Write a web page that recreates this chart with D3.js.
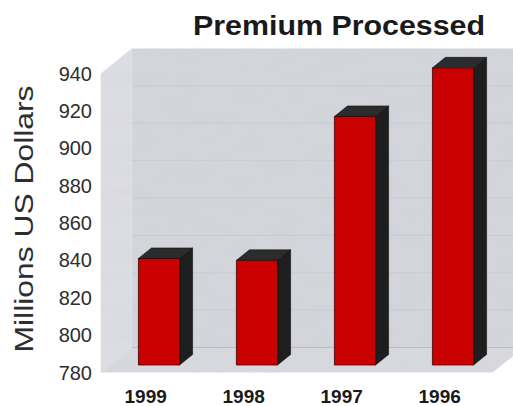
<!DOCTYPE html>
<html>
<head>
<meta charset="utf-8">
<script src="https://cdn.jsdelivr.net/npm/d3@7/dist/d3.min.js"></script>
<style>
  html, body { margin: 0; padding: 0; background: #ffffff; }
  svg { display: block; }
</style>
</head>
<body>
<svg id="chart" width="513" height="406"></svg>
<script>
// Premium processed per year, millions of US dollars
const years = ["1999", "1998", "1997", "1996"];
const premium = [837, 836, 913, 939];
const yTicks = [780, 800, 820, 840, 860, 880, 900, 920, 940];

const svg = d3.select("#chart");

// Front plane of the 3D box
const boxLeft = 100.7, boxRight = 492.7;
const boxBottom = 372.5, boxTop = 73.5;
// Depth offset of the back wall
const DX = 31, DY = 25;
// Bars sit between these depth fractions
const D0 = 0.3, D1 = 0.72;

const y = d3.scaleLinear().domain([780, 940]).range([boxBottom, boxTop]);
const x = d3.scaleBand().domain(years).range([boxLeft, boxRight])
  .paddingInner(0.58).paddingOuter(0.29);

const P = (px, v, d) => [px + d * DX, y(v) - d * DY];
const poly = pts => "M" + pts.map(p => p.join(",")).join("L") + "Z";

// Mottled surface texture for walls and floor
const defs = svg.append("defs");
const f = defs.append("filter").attr("id", "mottle")
  .attr("x", 0).attr("y", 0).attr("width", 1).attr("height", 1);
f.append("feTurbulence").attr("type", "fractalNoise")
  .attr("baseFrequency", "0.03 0.07").attr("numOctaves", 3).attr("seed", 7)
  .attr("result", "noise");
f.append("feColorMatrix").attr("in", "noise").attr("type", "matrix")
  .attr("values", "0 0 0 0 0.6  0 0 0 0 0.6  0 0 0 0 0.65  0.35 0 0 0 -0.13")
  .attr("result", "shade");
f.append("feComposite").attr("in", "shade").attr("in2", "SourceGraphic")
  .attr("operator", "atop");

const walls = svg.append("g");
const vMin = 780, vMax = 940;
const wallRight = boxRight + 40;

// Back wall
walls.append("path")
  .attr("d", poly([P(boxLeft, vMin, 1), P(wallRight, vMin, 1), P(wallRight, vMax, 1), P(boxLeft, vMax, 1)]))
  .attr("fill", "#d3d5db");
// Left side wall
walls.append("path")
  .attr("d", poly([P(boxLeft, vMin, 0), P(boxLeft, vMin, 1), P(boxLeft, vMax, 1), P(boxLeft, vMax, 0)]))
  .attr("fill", "#dcdde2");
// Floor
walls.append("path")
  .attr("d", poly([P(boxLeft, vMin, 0), P(boxRight, vMin, 0), P(boxRight, vMin, 1), P(boxLeft, vMin, 1)]))
  .attr("fill", "#d8d9de");

// Gridlines on the back wall
walls.selectAll("line.grid").data(yTicks.slice(1, -1)).join("line")
  .attr("class", "grid")
  .attr("x1", d => P(boxLeft, d, 1)[0]).attr("y1", d => P(boxLeft, d, 1)[1])
  .attr("x2", d => P(wallRight, d, 1)[0]).attr("y2", d => P(wallRight, d, 1)[1])
  .attr("stroke", "#bfc1c8").attr("stroke-opacity", 0.45).attr("stroke-width", 1);

walls.attr("filter", "url(#mottle)");

// Back edge of the floor
svg.append("path")
  .attr("d", "M" + P(boxLeft, vMin, 1).join(",") + "L" + P(wallRight, vMin, 1).join(","))
  .attr("stroke", "#bcbec5").attr("stroke-width", 1).attr("fill", "none");

// Bars
const bars = svg.append("g").selectAll("g.bar")
  .data(years.map((yr, i) => ({ yr, v: premium[i] })))
  .join("g").attr("class", "bar");

bars.append("path") // side
  .attr("d", d => {
    const xr = x(d.yr) + x.bandwidth();
    return poly([P(xr, vMin, D0), P(xr, vMin, D1), P(xr, d.v, D1), P(xr, d.v, D0)]);
  })
  .attr("fill", "#1e1e20").attr("stroke", "#111").attr("stroke-width", 0.6);

bars.append("path") // top
  .attr("d", d => {
    const x0 = x(d.yr), xr = x0 + x.bandwidth();
    return poly([P(x0, d.v, D0), P(xr, d.v, D0), P(xr, d.v, D1), P(x0, d.v, D1)]);
  })
  .attr("fill", "#2c2c2e").attr("stroke", "#111").attr("stroke-width", 0.6);

bars.append("path") // front
  .attr("d", d => {
    const x0 = x(d.yr), xr = x0 + x.bandwidth();
    return poly([P(x0, vMin, D0), P(xr, vMin, D0), P(xr, d.v, D0), P(x0, d.v, D0)]);
  })
  .attr("fill", "#c80000").attr("stroke", "#3a0000").attr("stroke-width", 0.8);

// Value axis labels
svg.append("g").selectAll("text").data(yTicks).join("text")
  .attr("x", 92).attr("y", d => y(d))
  .attr("dy", "0.35em")
  .attr("text-anchor", "end")
  .attr("font-family", "Liberation Sans, Arial, sans-serif")
  .attr("font-size", 20)
  .attr("fill", "#2e2e2e")
  .text(d => d);

// Category labels
svg.append("g").selectAll("text").data(years).join("text")
  .attr("x", d => x(d) + x.bandwidth() / 2 - 4)
  .attr("y", 403)
  .attr("text-anchor", "middle")
  .attr("font-family", "Liberation Sans, Arial, sans-serif")
  .attr("font-weight", "bold")
  .attr("font-size", 19)
  .attr("fill", "#1a1a1a")
  .text(d => d);

// Axis title
svg.append("text")
  .attr("transform", "translate(33,219) rotate(-90)")
  .attr("text-anchor", "middle")
  .attr("font-family", "Liberation Sans, Arial, sans-serif")
  .attr("font-size", 26)
  .attr("fill", "#2e2e2e")
  .attr("textLength", 267).attr("lengthAdjust", "spacingAndGlyphs")
  .text("Millions US Dollars");

// Chart title
svg.append("text")
  .attr("x", 339).attr("y", 35)
  .attr("text-anchor", "middle")
  .attr("font-family", "Liberation Sans, Arial, sans-serif")
  .attr("font-weight", "bold")
  .attr("font-size", 28)
  .attr("fill", "#1a1a1a")
  .attr("textLength", 292).attr("lengthAdjust", "spacingAndGlyphs")
  .text("Premium Processed");
</script>
</body>
</html>
